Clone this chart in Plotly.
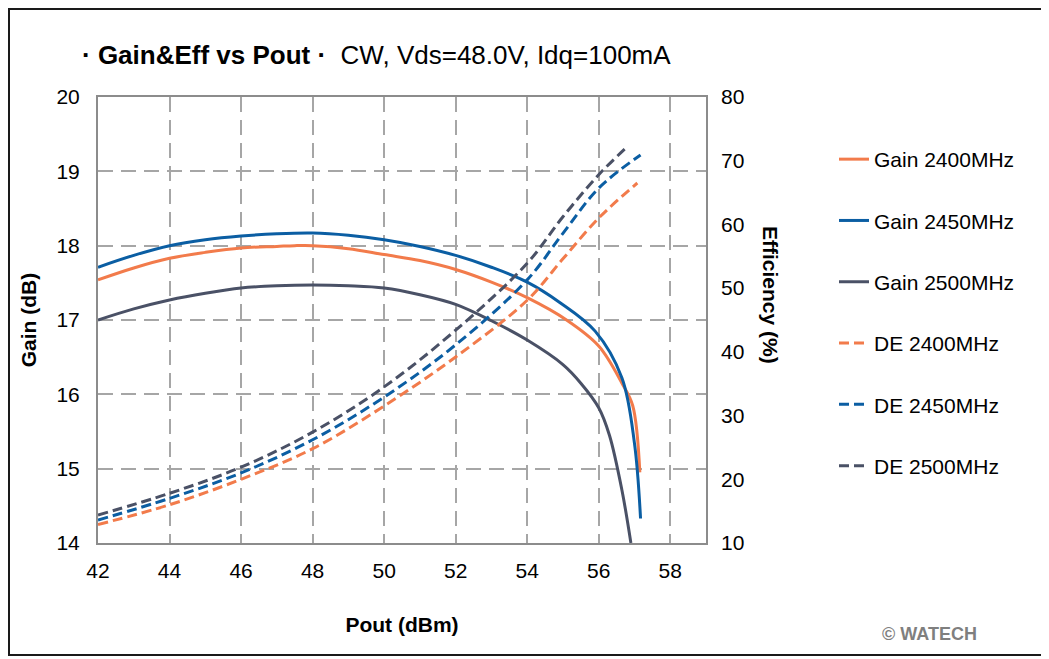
import plotly.graph_objects as go

# ---------------- data ----------------
x_gain_2400 = [42, 43, 44, 45, 46, 47, 47.5, 48, 49, 50, 51, 52, 53, 54, 55.1, 56.0, 56.65, 56.95, 57.15]
gain_2400 = [17.54, 17.70, 17.83, 17.91, 17.97, 17.99, 18.0, 18.0, 17.96, 17.88, 17.80, 17.68, 17.51, 17.30, 17.0, 16.65, 16.15, 15.85, 14.95]

x_gain_2450 = [42, 43, 44, 45, 46, 47, 48, 49, 50, 51, 52, 53, 54, 54.9, 55.9, 56.65, 57.0, 57.17]
gain_2450 = [17.71, 17.87, 18.0, 18.08, 18.13, 18.16, 18.17, 18.14, 18.08, 17.99, 17.87, 17.71, 17.51, 17.24, 16.85, 16.22, 15.34, 14.33]

x_gain_2500 = [42, 43, 44, 45, 46, 47, 48, 49, 50, 51, 52, 53, 54, 55, 55.5, 56, 56.3, 56.65, 56.9]
gain_2500 = [17.0, 17.15, 17.27, 17.36, 17.43, 17.46, 17.47, 17.46, 17.43, 17.34, 17.21, 16.99, 16.73, 16.40, 16.15, 15.82, 15.45, 14.71, 14.0]

x_de_2400 = [42, 44, 46, 48, 50, 52, 54, 55, 56, 57.08]
de_2400 = [12.9, 16.0, 20.0, 24.8, 31.5, 39.2, 48.1, 54.6, 61.0, 66.5]

x_de_2450 = [42, 44, 46, 48, 50, 52, 54, 55, 56, 57.17]
de_2450 = [13.6, 17.0, 21.0, 26.2, 32.9, 41.1, 51.3, 58.6, 65.7, 70.9]

x_de_2500 = [42, 44, 46, 48, 50, 52, 54, 55, 56, 56.8]
de_2500 = [14.4, 17.8, 21.9, 27.4, 34.5, 43.4, 53.9, 61.2, 67.8, 72.2]

x_ticks = [42, 44, 46, 48, 50, 52, 54, 56, 58]
gain_ticks = [14, 15, 16, 17, 18, 19, 20]
eff_ticks = [10, 20, 30, 40, 50, 60, 70, 80]

ORANGE = "#F27B4B"
BLUE = "#0B5EA3"
GRAY = "#4A5166"

FONT = "Liberation Sans, Arial, sans-serif"

fig = go.Figure()

def add(x, y, name, color, dash, axis, group, shape="linear"):
    fig.add_trace(go.Scatter(
        x=x, y=y, name=name, mode="lines",
        line=dict(color=color, width=3, dash=dash, shape=shape),
        yaxis=axis, legendgroup=group,
    ))

add(x_gain_2400, gain_2400, "Gain 2400MHz", ORANGE, "solid", "y", "g1", "spline")
add(x_gain_2450, gain_2450, "Gain 2450MHz", BLUE, "solid", "y", "g2", "spline")
add(x_gain_2500, gain_2500, "Gain 2500MHz", GRAY, "solid", "y", "g3", "spline")
add(x_de_2400, de_2400, "DE 2400MHz", ORANGE, "10px,5px", "y2", "g4", "spline")
add(x_de_2450, de_2450, "DE 2450MHz", BLUE, "10px,5px", "y2", "g5", "spline")
add(x_de_2500, de_2500, "DE 2500MHz", GRAY, "10px,5px", "y2", "g6", "spline")

OFF = 8  # page offset of the figure
W, H = 1049, 659
PL, PR, PT, PB = 98 - OFF, 706 - OFF, 97 - OFF, 543 - OFF  # plot area in figure px
PW, PH = PR - PL, PB - PT

def px(xp):
    return (xp - OFF - PL) / PW

def py(yp):
    return (PB - (yp - OFF)) / PH

fig.update_layout(
    width=W, height=H,
    margin=dict(l=PL, r=W - PR, t=PT, b=H - PB, autoexpand=False),
    paper_bgcolor="white", plot_bgcolor="white",
    font=dict(family=FONT, size=21, color="#000000"),
    showlegend=True,
    legend=dict(
        x=px(834), y=py(139), xanchor="left", yanchor="top",
        traceorder="grouped", tracegroupgap=31,
        font=dict(family=FONT, size=21, color="#000000"),
        bgcolor="rgba(0,0,0,0)",
    ),
    xaxis=dict(
        range=[42, 59], tickvals=x_ticks, ticks="",
        showgrid=True, gridcolor="#A6A6A6", gridwidth=1.5, griddash="15px,8px",
        showline=True, linecolor="#8C8C8C", linewidth=2, mirror=True,
        zeroline=False, tickfont=dict(size=21), ticklabelstandoff=8,
        title=dict(text="<b>Pout (dBm)</b>", font=dict(size=21), standoff=36),
    ),
    yaxis=dict(
        range=[14, 20], tickvals=gain_ticks, ticks="",
        showgrid=True, gridcolor="#A6A6A6", gridwidth=1.5, griddash="15px,8px",
        showline=True, linecolor="#8C8C8C", linewidth=2, mirror=True,
        zeroline=False, tickfont=dict(size=21), ticklabelstandoff=12,
        title=dict(text="<b>Gain (dB)</b>", font=dict(size=21), standoff=14),
    ),
    yaxis2=dict(
        range=[10, 80], tickvals=eff_ticks, ticks="",
        overlaying="y", side="right", showgrid=False, zeroline=False,
        showline=False, tickfont=dict(size=21), ticklabelstandoff=14,
    ),
)

fig.add_annotation(
    x=px(771), y=py(295), xref="paper", yref="paper",
    xanchor="center", yanchor="middle",
    text="<b>Efficiency (%)</b>", textangle=90, showarrow=False,
    font=dict(family=FONT, size=21, color="#000000"),
)

fig.add_annotation(
    x=px(80), y=py(55), xref="paper", yref="paper", xanchor="left", yanchor="middle",
    text="<b>· Gain&Eff vs Pout ·</b>  CW, Vds=48.0V, Idq=100mA",
    showarrow=False, font=dict(family=FONT, size=26, color="#000000"),
)

fig.add_annotation(
    x=px(929), y=py(634), xref="paper", yref="paper", xanchor="center", yanchor="middle",
    text="<b>© WATECH</b>", showarrow=False,
    font=dict(family=FONT, size=18, color="#7F7F7F"),
)

# outer frame
fig.add_shape(
    type="rect", xref="paper", yref="paper",
    x0=px(9), x1=px(1042), y0=py(655), y1=py(9),
    line=dict(color="#1A1A1A", width=2), fillcolor="rgba(0,0,0,0)", layer="below",
)

fig.write_html("out.html")
